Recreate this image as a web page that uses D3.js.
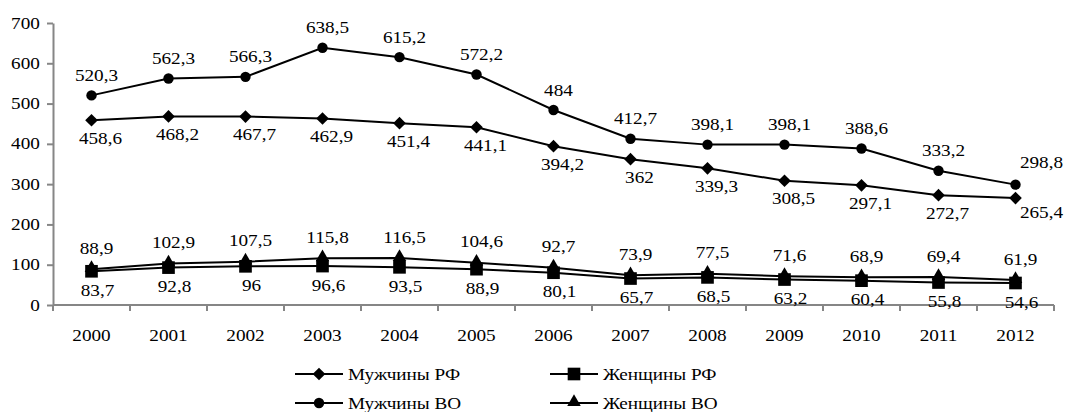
<!DOCTYPE html>
<html>
<head>
<meta charset="utf-8">
<script src="https://cdn.jsdelivr.net/npm/d3@7"></script>
<style>
  body { margin: 0; background: #fff; }
  svg text { font-family: "Liberation Serif", Tinos, "Times New Roman", "DejaVu Serif", serif; }
</style>
</head>
<body>
<svg width="1065" height="412"></svg>
<script>
// data
const years = ["2000", "2001", "2002", "2003", "2004", "2005", "2006", "2007", "2008", "2009", "2010", "2011", "2012"];
const menRF = [458.6, 468.2, 467.7, 462.9, 451.4, 441.1, 394.2, 362, 339.3, 308.5, 297.1, 272.7, 265.4];
const womenRF = [83.7, 92.8, 96, 96.6, 93.5, 88.9, 80.1, 65.7, 68.5, 63.2, 60.4, 55.8, 54.6];
const menVO = [520.3, 562.3, 566.3, 638.5, 615.2, 572.2, 484, 412.7, 398.1, 398.1, 388.6, 333.2, 298.8];
const womenVO = [88.9, 102.9, 107.5, 115.8, 116.5, 104.6, 92.7, 73.9, 77.5, 71.6, 68.9, 69.4, 61.9];
const yTicks = [0, 100, 200, 300, 400, 500, 600, 700];
const seriesNames = ["Мужчины РФ", "Женщины РФ", "Мужчины ВО", "Женщины ВО"];

const fmt = (v) => String(v).replace(".", ",");
const SX = 1.2; // text in the picture is stretched horizontally
const FONT = "Liberation Serif";

var svg = d3.select("svg");

var x = d3.scaleBand().domain(years).range([53, 1054]).padding(0);
var y = d3.scaleLinear().domain([0, 700]).range([305, 23]);
var cx = (i) => x(years[i]) + x.bandwidth() / 2;

// ===========================================================================
// AXES
// ===========================================================================
var yAxis = svg.append("g")
  .attr("transform", "translate(53,0)")
  .call(d3.axisLeft(y).tickValues(yTicks).tickSize(6).tickSizeOuter(0).tickPadding(5));

var xAxis = svg.append("g")
  .attr("transform", "translate(0,305)")
  .call(d3.axisBottom(x).tickSize(0).tickSizeOuter(0).tickPadding(25));

[yAxis, xAxis].forEach((a) => {
  a.attr("font-family", FONT).attr("font-size", 16);
  a.select(".domain").attr("stroke", "#868686").attr("stroke-width", 2);
  a.selectAll(".tick line").attr("stroke", "#868686").attr("stroke-width", 2);
  a.selectAll("text")
    .attr("fill", "#000")
    .attr("font-family", FONT)
    .attr("font-size", 16)
    .attr("transform", `scale(${SX},1)`);
});
xAxis.select(".domain").attr("d", "M53,0H1054");

// tick marks between the categories
xAxis.selectAll(".cat-tick")
  .data(years.concat(["end"]))
  .enter()
  .append("line")
  .attr("x1", (d, i) => (i < years.length ? x(d) : x.range()[1]))
  .attr("x2", (d, i) => (i < years.length ? x(d) : x.range()[1]))
  .attr("y1", 0)
  .attr("y2", 6)
  .attr("stroke", "#868686")
  .attr("stroke-width", 2);

// ===========================================================================
// SERIES
// ===========================================================================
var series = [
  { name: seriesNames[0], values: menRF, shape: "diamond", labelDy: 18, labelDx: 9 },
  { name: seriesNames[1], values: womenRF, shape: "square", labelDy: 19, labelDx: 6 },
  { name: seriesNames[2], values: menVO, shape: "circle", labelDy: -20, labelDx: 5 },
  { name: seriesNames[3], values: womenVO, shape: "triangle", labelDy: -21, labelDx: 5 }
];

function symbolPath(shape) {
  if (shape === "diamond") return d3.symbol(d3.symbolSquare, 80)();
  if (shape === "square") return d3.symbol(d3.symbolSquare, 160)();
  if (shape === "circle") return d3.symbol(d3.symbolCircle, 85)();
  return d3.symbol(d3.symbolTriangle, 80)();
}
function symbolTransform(shape, px, py) {
  let t = "translate(" + px + "," + py + ")";
  if (shape === "diamond") t += " rotate(45)";
  if (shape === "triangle") t += " translate(0,-1)";
  return t;
}

var line = d3.line().x((d, i) => cx(i)).y((d) => y(d));

// draw order: triangles under squares
var drawOrder = [series[0], series[2], series[3], series[1]];

drawOrder.forEach((s) => {
  svg.append("path")
    .datum(s.values)
    .attr("d", line)
    .attr("fill", "none")
    .attr("stroke", "#000")
    .attr("stroke-width", 2);
});

drawOrder.forEach((s) => {
  svg.selectAll(null)
    .data(s.values)
    .enter()
    .append("path")
    .attr("d", symbolPath(s.shape))
    .attr("transform", (d, i) => symbolTransform(s.shape, cx(i), y(d)))
    .attr("fill", "#000");
});

// ===========================================================================
// DATA LABELS
// ===========================================================================
function label(px, py, text) {
  svg.append("text")
    .attr("transform", "translate(" + px + "," + py + ") scale(" + SX + ",1)")
    .attr("text-anchor", "middle")
    .attr("dy", "0.35em")
    .attr("font-family", FONT)
    .attr("font-size", 16)
    .text(text);
}

var last = years.length - 1;
series.forEach((s) => {
  s.values.forEach((v, i) => {
    let dx = s.labelDx;
    let dy = s.labelDy;
    // the last two labels of the upper series sit to the right
    if (i === last && s.shape === "circle") { dx = 26; dy = -22; }
    if (i === last && s.shape === "diamond") { dx = 26; dy = 14; }
    label(cx(i) + dx, y(v) + dy, fmt(v));
  });
});

// ===========================================================================
// LEGEND
// ===========================================================================
var legendItems = [
  { s: series[0], x: 295, y: 374 },
  { s: series[1], x: 550, y: 374 },
  { s: series[2], x: 295, y: 403 },
  { s: series[3], x: 550, y: 403 }
];

legendItems.forEach((it) => {
  var g = svg.append("g").attr("transform", "translate(" + it.x + "," + it.y + ")");
  g.append("line")
    .attr("x1", 0).attr("x2", 48)
    .attr("y1", 0).attr("y2", 0)
    .attr("stroke", "#000")
    .attr("stroke-width", 2);
  g.append("path")
    .attr("d", symbolPath(it.s.shape))
    .attr("transform", symbolTransform(it.s.shape, 24, 0))
    .attr("fill", "#000");
  g.append("text")
    .attr("transform", "translate(53,0) scale(" + SX + ",1)")
    .attr("dy", "0.35em")
    .attr("font-family", FONT)
    .attr("font-size", 16)
    .text(it.s.name);
});
</script>
</body>
</html>
